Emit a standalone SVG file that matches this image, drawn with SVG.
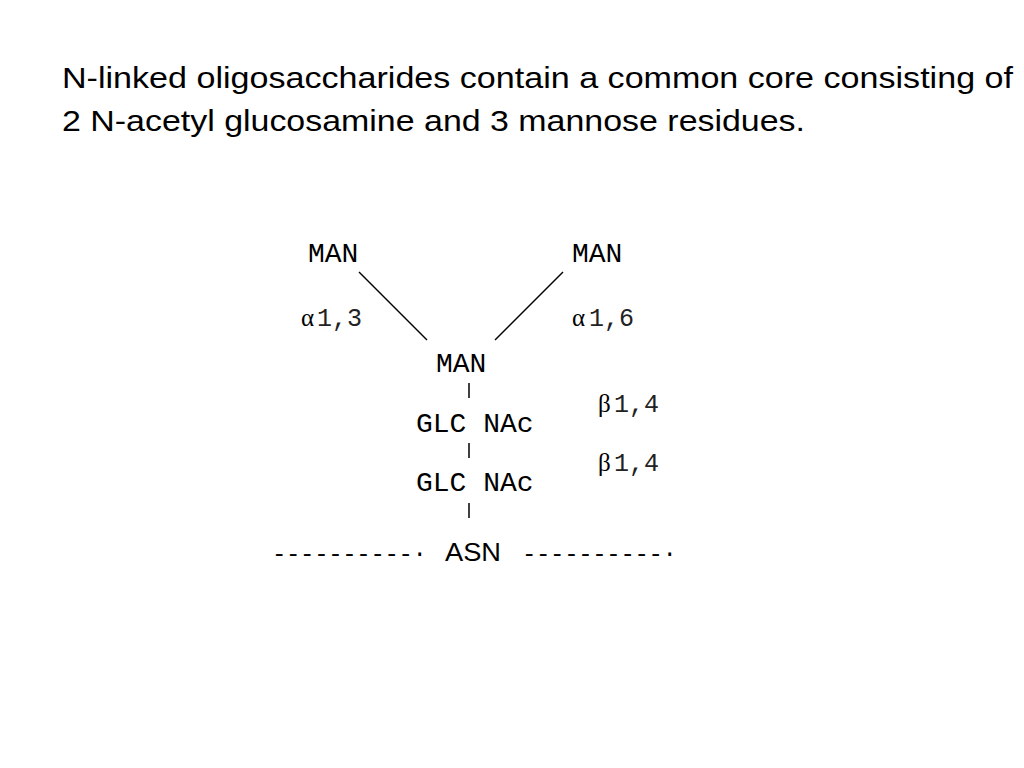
<svg xmlns="http://www.w3.org/2000/svg" width="1024" height="768" viewBox="0 0 1024 768">
<style>
.title{font-family:"Liberation Sans",Arial,sans-serif;font-size:30px;fill:#000}
.mono{font-family:"Liberation Mono","Courier New",monospace;font-size:28px;fill:#000}
.lab{font-family:"Liberation Mono","Courier New",monospace;font-size:25px;fill:#222}
.greek{font-family:"Liberation Serif","Times New Roman",serif;font-size:25px;fill:#000}
.asn{font-family:"Liberation Sans",Arial,sans-serif;font-size:26px;fill:#000}
.dash{font-family:"Liberation Mono","Courier New",monospace;font-size:24px;fill:#000}
.ln{stroke:#000;stroke-width:1.5;fill:none}
</style>
<rect width="1024" height="768" fill="#fff"/>
<g id="title">
<text class="title" x="62" y="88" textLength="951" lengthAdjust="spacingAndGlyphs">N-linked oligosaccharides contain a common core consisting of</text>
<text class="title" x="62" y="131" textLength="743" lengthAdjust="spacingAndGlyphs">2 N-acetyl glucosamine and 3 mannose residues.</text>
</g>
<g id="connectors">
<line class="ln" x1="359" y1="272" x2="427" y2="340"/>
<line class="ln" x1="563" y1="272" x2="495" y2="340"/>
<line class="ln" x1="469" y1="383" x2="469" y2="398"/>
<line class="ln" x1="469" y1="443" x2="469" y2="458"/>
<line class="ln" x1="469" y1="503" x2="469" y2="518"/>
</g>
<g id="man-left"><text class="mono" x="308" y="262">MAN</text></g>
<g id="man-right"><text class="mono" x="572" y="262">MAN</text></g>
<g id="man-center"><text class="mono" x="436" y="372">MAN</text></g>
<g id="glcnac-1"><text class="mono" x="416" y="432">GLC NAc</text></g>
<g id="glcnac-2"><text class="mono" x="416" y="491">GLC NAc</text></g>
<g id="label-a13"><text class="greek" x="301" y="326">α</text><text class="lab" x="317" y="326">1,3</text></g>
<g id="label-a16"><text class="greek" x="572" y="326">α</text><text class="lab" x="589" y="326">1,6</text></g>
<g id="label-b14a"><text class="greek" x="598" y="412">β</text><text class="lab" x="614" y="412">1,4</text></g>
<g id="label-b14b"><text class="greek" x="598" y="471">β</text><text class="lab" x="614" y="471">1,4</text></g>
<g id="asn">
<text class="dash" x="272" y="561" textLength="155" lengthAdjust="spacing">----------·</text>
<text class="asn" x="445" y="561" textLength="56" lengthAdjust="spacingAndGlyphs">ASN</text>
<text class="dash" x="522" y="561" textLength="155" lengthAdjust="spacing">----------·</text>
</g>
</svg>
